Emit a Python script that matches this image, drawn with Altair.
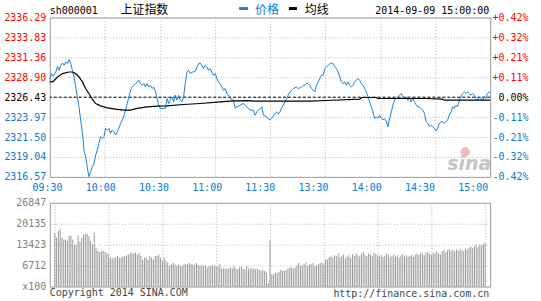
import altair as alt
import pandas as pd

# ---------------- data ----------------
CODE = "sh000001"
NAME = "上证指数"
LEG_PRICE = "价格"
LEG_AVG = "均线"
STAMP = "2014-09-09 15:00:00"
COPYRIGHT = "Copyright 2014 SINA.COM"
SITE = "http://finance.sina.com.cn"
WATERMARK = "sina"

PREV_CLOSE = 2326.43
PRICE_TICKS = [2316.57, 2319.04, 2321.50, 2323.97, 2326.43, 2328.90, 2331.36, 2333.83, 2336.29]
TIME_TICKS = [0, 30, 60, 90, 120, 150, 180, 210, 240]
TIME_LABELS = ["09:30", "10:00", "10:30", "11:00", "11:30", "13:30", "14:00", "14:30", "15:00"]
VOL_TICKS = [0, 6712, 13423, 20135, 26847]

# minute offset from 09:30 (lunch break removed), price
price_track = [
    (0, 2328.65), (0.9, 2329.35), (1.8, 2329.02), (3.3, 2329.55), (4.2, 2330.25), (5, 2329.76),
    (6, 2330.38), (6.9, 2330.66), (7.8, 2330.38), (8.7, 2330.78), (9.6, 2330.59), (10.5, 2331.08),
    (11.4, 2330.59), (12.3, 2329.76), (13.2, 2328.93), (14.1, 2327.70), (15, 2326.47), (15.9, 2325.24),
    (16.8, 2323.60), (17.8, 2321.99), (18.6, 2319.90), (19.5, 2319.07), (20.5, 2317.68), (21.3, 2316.61),
    (22.3, 2317.23), (23.2, 2317.84), (24.1, 2318.26), (25, 2319.29), (25.9, 2319.90), (26.8, 2320.72),
    (27.7, 2321.54), (28.6, 2321.34), (29.5, 2321.54), (30.4, 2322.58), (31.3, 2322.37), (32.2, 2322.58),
    (33.1, 2321.96), (34, 2322.37), (34.9, 2322.16), (35.8, 2321.75), (36.8, 2322.16), (37.6, 2322.58),
    (38.6, 2323.19), (39.5, 2323.60), (40.3, 2324.00), (41.3, 2324.83), (42.2, 2325.65), (43.1, 2326.47),
    (44, 2327.30), (44.9, 2327.70), (45.8, 2327.91), (46.7, 2328.12), (47.6, 2328.32), (48.5, 2328.53),
    (49.4, 2328.12), (50.3, 2327.91), (51.2, 2328.12), (52.1, 2327.70), (53, 2328.12), (53.9, 2327.70),
    (54.8, 2327.91), (55.8, 2327.50), (56.6, 2327.70), (57.6, 2327.09), (58.5, 2326.27), (59.3, 2325.45),
    (60.3, 2325.04), (61.2, 2325.04), (62.1, 2325.04), (63, 2325.04), (63.9, 2326.27), (64.8, 2325.65),
    (65.7, 2326.06), (66.6, 2326.47), (67.5, 2325.85), (68.4, 2326.68), (69.3, 2326.06), (70.2, 2326.68),
    (71.1, 2326.06), (72.1, 2325.85), (72.9, 2326.47), (73.8, 2328.12), (74.8, 2329.55), (75.6, 2329.76),
    (76.6, 2329.35), (77.5, 2329.55), (78.4, 2329.55), (79.3, 2329.67), (80.2, 2330.17), (81.1, 2330.59),
    (82, 2330.66), (82.9, 2330.38), (83.8, 2329.97), (84.7, 2330.38), (85.6, 2330.17), (86.5, 2329.76),
    (87.4, 2329.97), (88.3, 2329.55), (89.2, 2329.14), (90.1, 2329.35), (91.1, 2328.73), (91.9, 2328.32),
    (92.8, 2328.12), (93.8, 2327.70), (94.6, 2327.30), (95.6, 2327.50), (96.5, 2326.89), (97.4, 2326.68),
    (98.3, 2326.27), (100.1, 2326.06), (101, 2325.08), (101.9, 2325.24), (103.7, 2325.45), (105.5, 2325.65),
    (107.3, 2325.24), (109.1, 2324.83), (110.9, 2324.83), (111.9, 2324.21), (112.8, 2324.62), (114.6, 2325.04),
    (115.5, 2325.24), (116.4, 2324.21), (118.2, 2324.00), (120, 2323.60),
    (120.9, 2323.81), (122.7, 2324.42), (123.6, 2324.62), (124.5, 2324.34), (125.4, 2324.62), (126.3, 2325.08),
    (127.2, 2325.45), (128.1, 2325.85), (129.1, 2326.27), (129.9, 2326.68), (130.9, 2327.09), (131.8, 2327.30),
    (132.7, 2327.50), (133.6, 2327.60), (134.5, 2327.70), (135.4, 2327.50), (136.3, 2327.60), (137.2, 2327.70),
    (138.1, 2327.91), (139.1, 2327.91), (139.9, 2328.12), (140.8, 2328.12), (141.7, 2327.91), (142.6, 2327.50),
    (143.5, 2327.30), (144.4, 2327.09), (145.4, 2327.91), (146.2, 2328.32), (147.1, 2328.73), (148.1, 2329.14),
    (148.9, 2329.14), (149.9, 2329.97), (150.8, 2330.17), (151.7, 2330.38), (152.6, 2330.59), (153.5, 2330.66),
    (154.4, 2330.59), (155.3, 2330.17), (156.2, 2329.97), (157.1, 2329.55), (158, 2328.93), (158.9, 2328.32),
    (159.8, 2328.12), (160.7, 2328.32), (161.6, 2327.91), (162.5, 2328.32), (163.4, 2327.91), (164.4, 2327.70),
    (165.2, 2327.91), (166.1, 2328.32), (167.1, 2328.53), (167.9, 2328.73), (168.9, 2328.53), (169.8, 2328.12),
    (170.7, 2327.91), (171.6, 2327.50), (172.5, 2327.09), (173.4, 2326.47), (174.3, 2325.85), (175.2, 2325.24),
    (176.1, 2324.62), (177, 2323.81), (177.9, 2324.00), (178.8, 2323.81), (179.7, 2324.21), (180.6, 2323.81),
    (181.5, 2323.60), (182.4, 2323.81), (183.4, 2323.39), (184.2, 2322.77), (185.2, 2323.81), (186.1, 2324.62),
    (187, 2325.45), (187.9, 2326.06), (188.8, 2326.27), (189.7, 2326.47), (190.6, 2326.68), (191.5, 2326.89),
    (192.4, 2326.47), (193.3, 2326.27), (194.2, 2326.47), (195.1, 2326.06), (196, 2326.27), (196.9, 2325.85),
    (197.8, 2326.27), (198.7, 2325.85), (199.7, 2325.45), (200.5, 2325.24), (201.4, 2325.24), (202.4, 2325.04),
    (203.2, 2324.83), (204.2, 2324.42), (205.1, 2323.39), (206, 2323.19), (206.9, 2322.77), (207.8, 2322.98),
    (208.7, 2322.77), (209.6, 2322.58), (210.5, 2322.28), (211.4, 2322.58), (212.3, 2323.19), (213.2, 2323.39),
    (214.1, 2323.39), (215, 2323.19), (215.9, 2323.39), (216.8, 2323.60), (217.7, 2324.21), (218.7, 2324.62),
    (219.5, 2325.24), (220.4, 2325.04), (221.4, 2325.45), (222.2, 2325.24), (223.2, 2326.06), (224.1, 2326.47),
    (225, 2326.89), (225.9, 2327.09), (226.8, 2326.89), (227.7, 2327.09), (228.6, 2326.89), (229.5, 2326.68),
    (230.4, 2326.89), (231.4, 2326.68), (232.3, 2326.27), (233.1, 2326.06), (234, 2326.47), (234.9, 2326.27),
    (235.8, 2326.06), (236.7, 2326.47), (237.6, 2326.27), (238.5, 2326.89), (239.4, 2327.09), (240, 2327.00),
]

avg_track = [
    (0, 2328.32), (1.6, 2328.32), (4.2, 2328.93), (6.9, 2329.35), (10.5, 2329.55), (12.3, 2329.55),
    (14.1, 2329.35), (15.9, 2328.93), (17.8, 2328.32), (19.5, 2327.50), (21.3, 2326.89), (23.2, 2326.15),
    (25, 2325.65), (27.7, 2325.36), (31.3, 2325.11), (36.8, 2324.92), (40.3, 2324.83), (44, 2324.83),
    (47.6, 2325.04), (53, 2325.24), (58.5, 2325.32), (63.9, 2325.36), (72.9, 2325.53), (82, 2325.65),
    (91.1, 2325.81), (100.1, 2325.97), (109.1, 2326.00), (110.7, 2325.94), (120, 2325.94), (141.7, 2325.94),
    (150.8, 2326.02), (168.9, 2326.19), (170, 2326.39), (178, 2326.39), (178.8, 2326.27), (205, 2326.27),
    (214, 2326.19), (215, 2326.06), (240, 2326.06),
]

# volume per minute (x100 shares), minute 0..240
volume = [
    17000, 15700, 17800, 18500, 15700, 15100, 15100, 14600, 16200, 16400,
    15100, 13500, 13500, 16400, 14300, 15700, 16700, 16900, 17000, 16200,
    14600, 13500, 17300, 12500, 11400, 11100, 11400, 11400, 11100, 10900,
    10300, 9300, 8900, 9300, 9300, 9800, 9300, 9300, 9600, 9800,
    10000, 10300, 10600, 10900, 10600, 10900, 10300, 10900, 9800, 8700,
    9300, 9300, 8700, 9800, 9300, 8700, 9800, 9800, 10300, 9300,
    8200, 9300, 8200, 7700, 6600, 7100, 7700, 7100, 6600, 7100,
    6600, 6600, 7100, 7100, 7100, 7500, 7100, 7100, 6800, 7500,
    6800, 6600, 6800, 6600, 6800, 6100, 6600, 6600, 6800, 6600,
    6400, 6400, 7100, 5750, 5750, 5750, 5750, 5750, 6100, 5750,
    6400, 5750, 5550, 6100, 6400, 5750, 5550, 6600, 5750, 5750,
    5750, 5750, 5550, 5750, 5300, 5000, 5300, 5000, 4500, 1100,
    14900,
    3950, 3950, 4500, 4250, 4700, 5300, 5000, 5000, 5300, 5750,
    6100, 6100, 5750, 6100, 6800, 7500, 6600, 6800, 7100, 7700,
    6600, 7100, 7100, 7500, 6600, 6800, 7100, 7500, 7700, 7100,
    8700, 8700,
    9500, 9900, 9200, 10100, 9700, 10600, 9400, 9800, 10300, 9100, 9600, 10000, 9300,
    10400, 9900, 10700, 10100, 9600, 10500, 11000, 10200, 9800, 10600, 10300, 9900, 10800, 10400, 10000,
    9700, 10200, 9500, 9900, 10600, 10100, 9400, 9800, 10300, 9600,
    10000, 9300, 9900, 10400, 9700, 10100, 9500, 9800, 10200, 9600,
    10300, 10700, 10100, 10900, 10400, 10000, 10800, 11100, 10500, 10200, 10900, 10600, 11200, 10700, 10300,
    11300, 11700, 11000, 11600, 12000, 11400, 11800, 11200, 11900, 11500, 12100, 11600, 11300, 12200, 11800,
    12400, 12800, 12300, 12900, 13200, 12700, 13400, 13100, 13600, 13900,
]

# ---------------- style ----------------
MONO = "DejaVu Sans Mono"
CJK = "Noto Sans CJK SC"
RED = "#ff0000"
BLUE_T = "#0a7ad2"
BLUE_L = "#1a82d6"
GRID = "#b4b4b4"
FRAME = "#999999"
W, H, VH = 442, 160, 84

price_df = pd.DataFrame(price_track, columns=["m", "p"])
avg_df = pd.DataFrame(avg_track, columns=["m", "p"])
vol_df = pd.DataFrame({"m": list(range(len(volume))), "v": volume})
tick_df = pd.DataFrame({"slot": list(range(len(TIME_LABELS))), "label": TIME_LABELS})
prev_df = pd.DataFrame({"p": [PREV_CLOSE]})

xs = alt.Scale(domain=[0, 240], nice=False, zero=False)
ys = alt.Scale(domain=[PRICE_TICKS[0], PRICE_TICKS[-1]], nice=False, zero=False)

label_color = {
    "condition": [
        {"test": f"datum.value > {PREV_CLOSE + 0.05}", "value": RED},
        {"test": f"datum.value < {PREV_CLOSE - 0.05}", "value": BLUE_T},
    ],
    "value": "#000000",
}

x_grid_axis = alt.Axis(values=TIME_TICKS, grid=True, gridColor=GRID, gridDash=[1, 2],
                       labels=False, ticks=False, domain=False, title=None)

left_axis = alt.Axis(values=PRICE_TICKS, format=".2f", grid=True, gridColor=GRID, gridDash=[1, 2],
                     ticks=False, domain=False, labelFont=MONO, labelFontSize=10, labelPadding=4,
                     labelColor=label_color, title=None)

pct_expr = (f"(datum.value > {PREV_CLOSE + 0.05} ? '+' : (datum.value < {PREV_CLOSE - 0.05} ? '-' : '')) + "
            f"format(abs(datum.value - {PREV_CLOSE}) / {PREV_CLOSE} * 100, '.2f') + '%'")
right_axis = alt.Axis(orient="right", values=PRICE_TICKS, labelExpr=pct_expr, grid=False,
                      ticks=False, domain=False, labelFont=MONO, labelFontSize=10,
                      labelPadding=38, labelAlign="right", labelColor=label_color, title=None)


def text_mark(text, x, y, color, font, size, align="left", baseline="alphabetic", **kw):
    return alt.Chart(pd.DataFrame({"t": [text]})).mark_text(
        align=align, baseline=baseline, color=color, font=font, fontSize=size, **kw
    ).encode(x=alt.value(x), y=alt.value(y), text="t:N")


def dash_mark(x1, x2, y, color):
    return alt.Chart(pd.DataFrame({"t": [0]})).mark_rule(color=color, strokeWidth=3).encode(
        x=alt.value(x1), x2=alt.value(x2), y=alt.value(y))


prev_rule = alt.Chart(prev_df).mark_rule(color="#000000", strokeDash=[3, 2], strokeWidth=1).encode(
    y=alt.Y("p:Q", scale=ys, axis=None))

price_line = alt.Chart(price_df).mark_line(color=BLUE_L, strokeWidth=1).encode(
    x=alt.X("m:Q", scale=xs, axis=x_grid_axis),
    y=alt.Y("p:Q", scale=ys, axis=left_axis))

avg_line = alt.Chart(avg_df).mark_line(color="#000000", strokeWidth=1.2).encode(
    x=alt.X("m:Q", scale=xs, axis=None),
    y=alt.Y("p:Q", scale=ys, axis=right_axis))

time_text = alt.Chart(tick_df).mark_text(color=BLUE_T, font=MONO, fontSize=10, baseline="middle").encode(
    x=alt.X("slot:Q", scale=alt.Scale(domain=[0.043, 8.32], nice=False, zero=False), axis=None),
    y=alt.value(171),
    text="label:N")

header = [
    text_mark(CODE, 0, -4, "#000000", MONO, 10),
    text_mark(NAME, 71, -3.5, "#000000", CJK, 12),
    dash_mark(190, 199, -9, BLUE_L),
    text_mark(LEG_PRICE, 206, -3.5, BLUE_T, CJK, 12),
    dash_mark(240, 248, -9, "#000000"),
    text_mark(LEG_AVG, 256, -3.5, "#000000", CJK, 12),
    text_mark(STAMP, 441, -4, "#000000", MONO, 10, align="right"),
]

watermark = [
    alt.Chart(pd.DataFrame({"t": [0]})).mark_point(filled=True, color="#f3b3b3", size=90, opacity=0.9).encode(
        x=alt.value(417), y=alt.value(135)),
    text_mark(WATERMARK, 421, 147, "#c4c4c4", "DejaVu Sans", 19, align="center", baseline="middle",
              fontStyle="italic", fontWeight="bold"),
]

main = alt.layer(prev_rule, price_line, avg_line, time_text, *header, *watermark).resolve_scale(
    x="independent").resolve_axis(y="independent", x="independent").properties(width=W, height=H)

vol_bars = alt.Chart(vol_df).mark_bar(size=1, color="#9a9a9a").encode(
    x=alt.X("m:Q", scale=xs, axis=x_grid_axis),
    y=alt.Y("v:Q", scale=alt.Scale(domain=[0, VOL_TICKS[-1]], nice=False),
            axis=alt.Axis(values=VOL_TICKS, labelExpr="datum.value == 0 ? 'x100' : format(datum.value, 'd')",
                          grid=True, gridColor=GRID, gridDash=[1, 2], ticks=False, domain=False,
                          labelFont=MONO, labelFontSize=10, labelPadding=4, labelColor="#808080",
                          title=None)))

footer = [
    text_mark(COPYRIGHT, 0, 91, "#444444", MONO, 10, baseline="middle"),
    text_mark(SITE, 441, 92, "#444444", MONO, 10, align="right", baseline="middle"),
    alt.Chart(pd.DataFrame({"t": [0]})).mark_rule(color="#c8c8c8", strokeWidth=1).encode(
        x=alt.value(-49), x2=alt.value(492), y=alt.value(99)),
]

vol = alt.layer(vol_bars, *footer).properties(width=W, height=VH)

chart = alt.vconcat(main, vol, spacing=3).properties(
    padding={"left": 0, "top": 3, "right": 0, "bottom": 0}
).configure_view(stroke=FRAME, strokeWidth=1)

chart.save("out.html", embed_options={"renderer": "svg", "actions": False})
